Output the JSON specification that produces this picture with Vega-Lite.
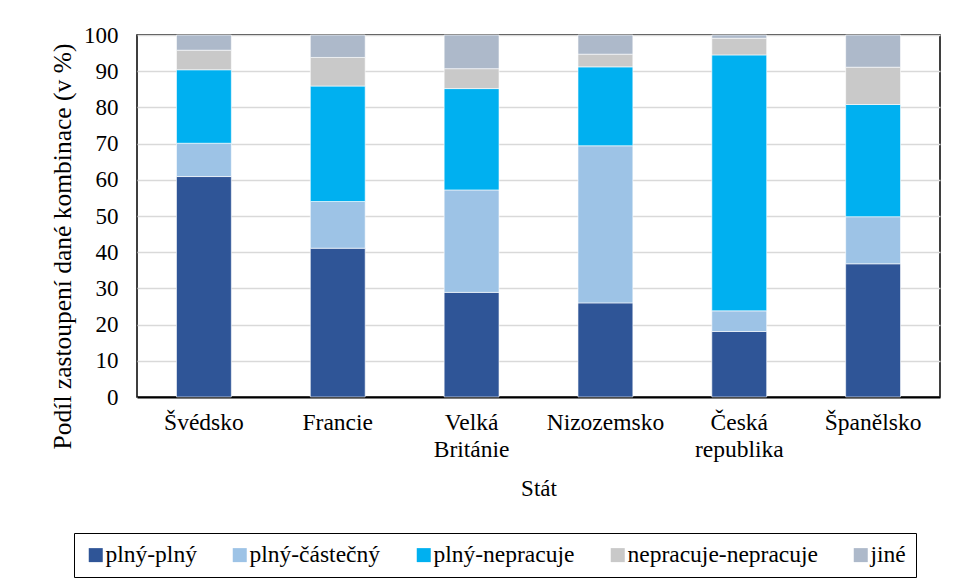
{
  "$schema": "https://vega.github.io/schema/vega-lite/v6.json",
  "autosize": "none",
  "width": 803,
  "height": 362,
  "padding": {"left": 137, "top": 35, "right": 14, "bottom": 191},
  "background": "white",
  "config": {
    "font": "Liberation Serif",
    "view": {"stroke": "black", "strokeWidth": 1.5}
  },
  "data": {
    "values": [
      {"stat": "Švédsko", "kombinace": "plný-plný", "poradi": 1, "hodnota": 60.9},
      {"stat": "Švédsko", "kombinace": "plný-částečný", "poradi": 2, "hodnota": 9.2},
      {"stat": "Švédsko", "kombinace": "plný-nepracuje", "poradi": 3, "hodnota": 20.3},
      {"stat": "Švédsko", "kombinace": "nepracuje-nepracuje", "poradi": 4, "hodnota": 5.4},
      {"stat": "Švédsko", "kombinace": "jiné", "poradi": 5, "hodnota": 4.2},
      {"stat": "Francie", "kombinace": "plný-plný", "poradi": 1, "hodnota": 41.1},
      {"stat": "Francie", "kombinace": "plný-částečný", "poradi": 2, "hodnota": 12.9},
      {"stat": "Francie", "kombinace": "plný-nepracuje", "poradi": 3, "hodnota": 31.9},
      {"stat": "Francie", "kombinace": "nepracuje-nepracuje", "poradi": 4, "hodnota": 7.9},
      {"stat": "Francie", "kombinace": "jiné", "poradi": 5, "hodnota": 6.2},
      {"stat": "Velká Británie", "kombinace": "plný-plný", "poradi": 1, "hodnota": 28.9},
      {"stat": "Velká Británie", "kombinace": "plný-částečný", "poradi": 2, "hodnota": 28.3},
      {"stat": "Velká Británie", "kombinace": "plný-nepracuje", "poradi": 3, "hodnota": 28.0},
      {"stat": "Velká Británie", "kombinace": "nepracuje-nepracuje", "poradi": 4, "hodnota": 5.5},
      {"stat": "Velká Británie", "kombinace": "jiné", "poradi": 5, "hodnota": 9.3},
      {"stat": "Nizozemsko", "kombinace": "plný-plný", "poradi": 1, "hodnota": 26.0},
      {"stat": "Nizozemsko", "kombinace": "plný-částečný", "poradi": 2, "hodnota": 43.4},
      {"stat": "Nizozemsko", "kombinace": "plný-nepracuje", "poradi": 3, "hodnota": 21.8},
      {"stat": "Nizozemsko", "kombinace": "nepracuje-nepracuje", "poradi": 4, "hodnota": 3.5},
      {"stat": "Nizozemsko", "kombinace": "jiné", "poradi": 5, "hodnota": 5.3},
      {"stat": "Česká republika", "kombinace": "plný-plný", "poradi": 1, "hodnota": 18.1},
      {"stat": "Česká republika", "kombinace": "plný-částečný", "poradi": 2, "hodnota": 5.7},
      {"stat": "Česká republika", "kombinace": "plný-nepracuje", "poradi": 3, "hodnota": 70.7},
      {"stat": "Česká republika", "kombinace": "nepracuje-nepracuje", "poradi": 4, "hodnota": 4.6},
      {"stat": "Česká republika", "kombinace": "jiné", "poradi": 5, "hodnota": 0.9},
      {"stat": "Španělsko", "kombinace": "plný-plný", "poradi": 1, "hodnota": 36.8},
      {"stat": "Španělsko", "kombinace": "plný-částečný", "poradi": 2, "hodnota": 13.0},
      {"stat": "Španělsko", "kombinace": "plný-nepracuje", "poradi": 3, "hodnota": 31.0},
      {"stat": "Španělsko", "kombinace": "nepracuje-nepracuje", "poradi": 4, "hodnota": 10.3},
      {"stat": "Španělsko", "kombinace": "jiné", "poradi": 5, "hodnota": 8.9}
    ]
  },
  "mark": {"type": "bar", "stroke": "white", "strokeWidth": 0.6},
  "encoding": {
    "x": {
      "field": "stat", "type": "nominal", "sort": null,
      "scale": {"paddingInner": 0.59, "paddingOuter": 0.295},
      "axis": {
        "title": "Stát", "labelAngle": 0, "ticks": false, "domain": true, "domainColor": "black", "domainWidth": 2,
        "labelFont": "Liberation Serif", "labelFontSize": 23.5, "labelColor": "black",
        "titleFont": "Liberation Serif", "titleFontSize": 23, "titleFontWeight": "normal", "titleColor": "black",
        "labelPadding": 13, "labelLineHeight": 27, "titlePadding": 17,
        "labelExpr": "split(datum.label, ' ')"
      }
    },
    "y": {
      "field": "hodnota", "type": "quantitative", "stack": "zero",
      "scale": {"domain": [0, 100], "nice": false},
      "axis": {
        "title": "Podíl zastoupení dané kombinace (v %)",
        "values": [0, 10, 20, 30, 40, 50, 60, 70, 80, 90, 100],
        "labelFont": "Liberation Serif", "labelFontSize": 23, "labelColor": "black",
        "titleFont": "Liberation Serif", "titleFontSize": 25.5, "titleFontWeight": "normal", "titleColor": "black",
        "ticks": false, "domain": false, "labelPadding": 19, "titlePadding": 8, "titleY": 211,
        "gridColor": "#d9d9d9", "gridWidth": 1.5
      }
    },
    "color": {
      "field": "kombinace", "type": "nominal",
      "scale": {
        "domain": ["plný-plný", "plný-částečný", "plný-nepracuje", "nepracuje-nepracuje", "jiné"],
        "range": ["#2F5597", "#9DC3E6", "#00B0F0", "#C9C9C9", "#ADB9CA"]
      },
      "legend": {
        "title": null, "orient": "none", "direction": "horizontal", "columns": 5,
        "legendX": -63, "legendY": 498,
        "labelFont": "Liberation Serif", "labelFontSize": 23.5, "labelColor": "black", "labelLimit": 400,
        "symbolType": "square", "symbolSize": 196, "symbolStrokeWidth": 0,
        "labelOffset": -2, "columnPadding": 31, "padding": 10,
        "strokeColor": "black",
        "encode": {"legend": {"update": {"strokeWidth": {"value": 1.5}}}}
      }
    },
    "order": {"field": "poradi", "type": "quantitative"}
  }
}
